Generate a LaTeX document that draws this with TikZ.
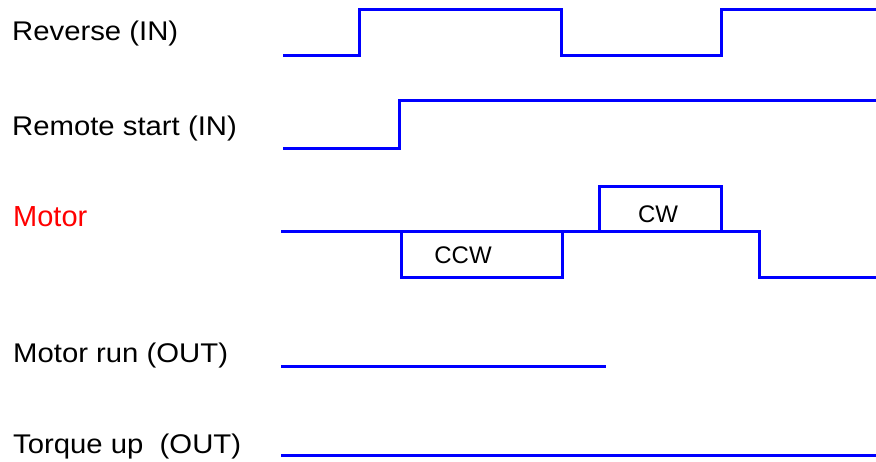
\documentclass[tikz,border=0pt]{standalone}
\usepackage{fontspec}
\setmainfont{Liberation Sans}
\newfontfamily\lblfont{Liberation Sans}[FakeStretch=1.085]
\definecolor{sigblue}{RGB}{0,0,255}
\definecolor{sigred}{RGB}{255,0,0}
\tikzset{
  signal/.style={draw=sigblue, line width=3pt, line join=miter, line cap=rect},
  siglabel/.style={anchor=base west, inner sep=0pt, font=\lblfont\fontsize{27}{32}\selectfont},
  statelabel/.style={anchor=base, inner sep=0pt, font=\fontsize{24}{28}\selectfont}
}
\begin{document}
\begin{tikzpicture}[x=1pt, y=-1pt]
  \useasboundingbox (0,0) rectangle (876,461);

  % signal names
  \node[siglabel] (lrev) at (12,40.7) {Reverse (IN)};
  \node[siglabel] (lrem) at (12,135.7) {Remote start (IN)};
  \node[siglabel, font=\fontsize{29}{33}\selectfont, text=sigred] (lmot) at (13,226) {Motor};
  \node[siglabel] (lrun) at (13,362.7) {Motor run (OUT)};
  \node[siglabel] (ltrq) at (13,453.3) {Torque up\ \ (OUT)};

  % Reverse input
  \draw[signal, line cap=butt] (283,55) -- (359,55) -- (359,9) -- (561,9) -- (561,55)
        -- (721,55) -- (721,9) -- (876,9);

  % Remote start input
  \draw[signal, line cap=butt] (283,148) -- (399,148) -- (399,100) -- (876,100);

  % Motor state
  \draw[signal, line cap=butt] (281,231) -- (759,231) -- (759,277) -- (876,277);
  \draw[signal] (401,231) rectangle (562,277);
  \draw[signal] (599,186) rectangle (721,231);
  \node[statelabel] (ccw) at (463,263.3) {CCW};
  \node[statelabel] (cw) at (658,222.3) {CW};

  % outputs
  \draw[signal, line cap=butt] (281,366) -- (606,366);
  \draw[signal, line cap=butt] (281,455) -- (876,455);
\end{tikzpicture}
\end{document}
